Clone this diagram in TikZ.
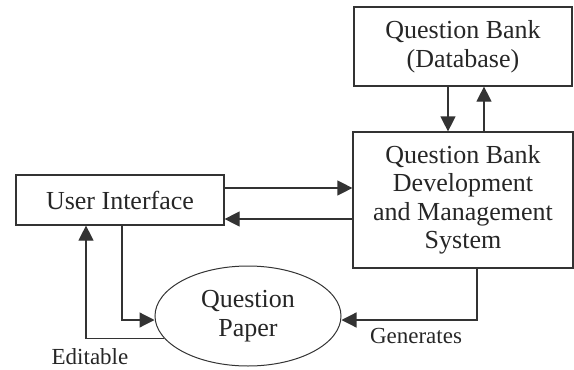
\documentclass[tikz,border=0pt]{standalone}
\usepackage{fontspec}
\setmainfont{Liberation Serif}
\usetikzlibrary{arrows.meta,shapes.geometric}
\begin{document}
\begin{tikzpicture}[x=1pt,y=-1pt,
  every node/.style={text=black!85},
  blk/.style={draw=black!80, line width=1.2pt, rectangle, align=center, inner sep=0pt,
              font=\fontsize{26}{28.5}\selectfont},
  oval/.style={draw=black!80, line width=1pt, ellipse, align=center, inner sep=0pt,
              font=\fontsize{26}{28.5}\selectfont},
  lbl/.style={font=\fontsize{23}{25}\selectfont, inner sep=0pt},
  arr/.style={draw=black!80, line width=1.2pt, -{Triangle[length=15pt,width=15pt]}},
  ln/.style={draw=black!80, line width=1.2pt}]
\useasboundingbox (0,0) rectangle (574,370);
\node[blk, minimum width=218pt, minimum height=79pt] (db) at (463,46.5) {Question Bank\\(Database)};
\node[blk, minimum width=220pt, minimum height=136pt] (sys) at (463,200) {Question Bank\\Development\\and Management\\System};
\node[blk, minimum width=208pt, minimum height=50pt] (ui) at (120,200) {User Interface};
\node[oval, minimum width=186pt, minimum height=100pt] (qp) at (248,316) {Question\\Paper};
\draw[arr] ([xshift=-15pt]db.south) -- ([xshift=-15pt]sys.north);
\draw[arr] ([xshift=21pt]sys.north) -- ([xshift=21pt]db.south);
\draw[arr] ([yshift=12pt]ui.east) -- ([yshift=12pt]ui.east -| sys.west);
\draw[arr] ([yshift=-19pt]ui.east -| sys.west) -- ([yshift=-19pt]ui.east);
\draw[arr] ([xshift=2pt]ui.south) |- ([yshift=-4pt]qp.west);
\draw[arr] (qp.195) -| ([xshift=-34pt]ui.south);
\draw[arr] ([xshift=14pt]sys.south) |- ([yshift=-4pt]qp.east);
\node[lbl] (ed) at (90,357) {Editable};
\node[lbl] (gen) at (416,336) {Generates};
\end{tikzpicture}
\end{document}
